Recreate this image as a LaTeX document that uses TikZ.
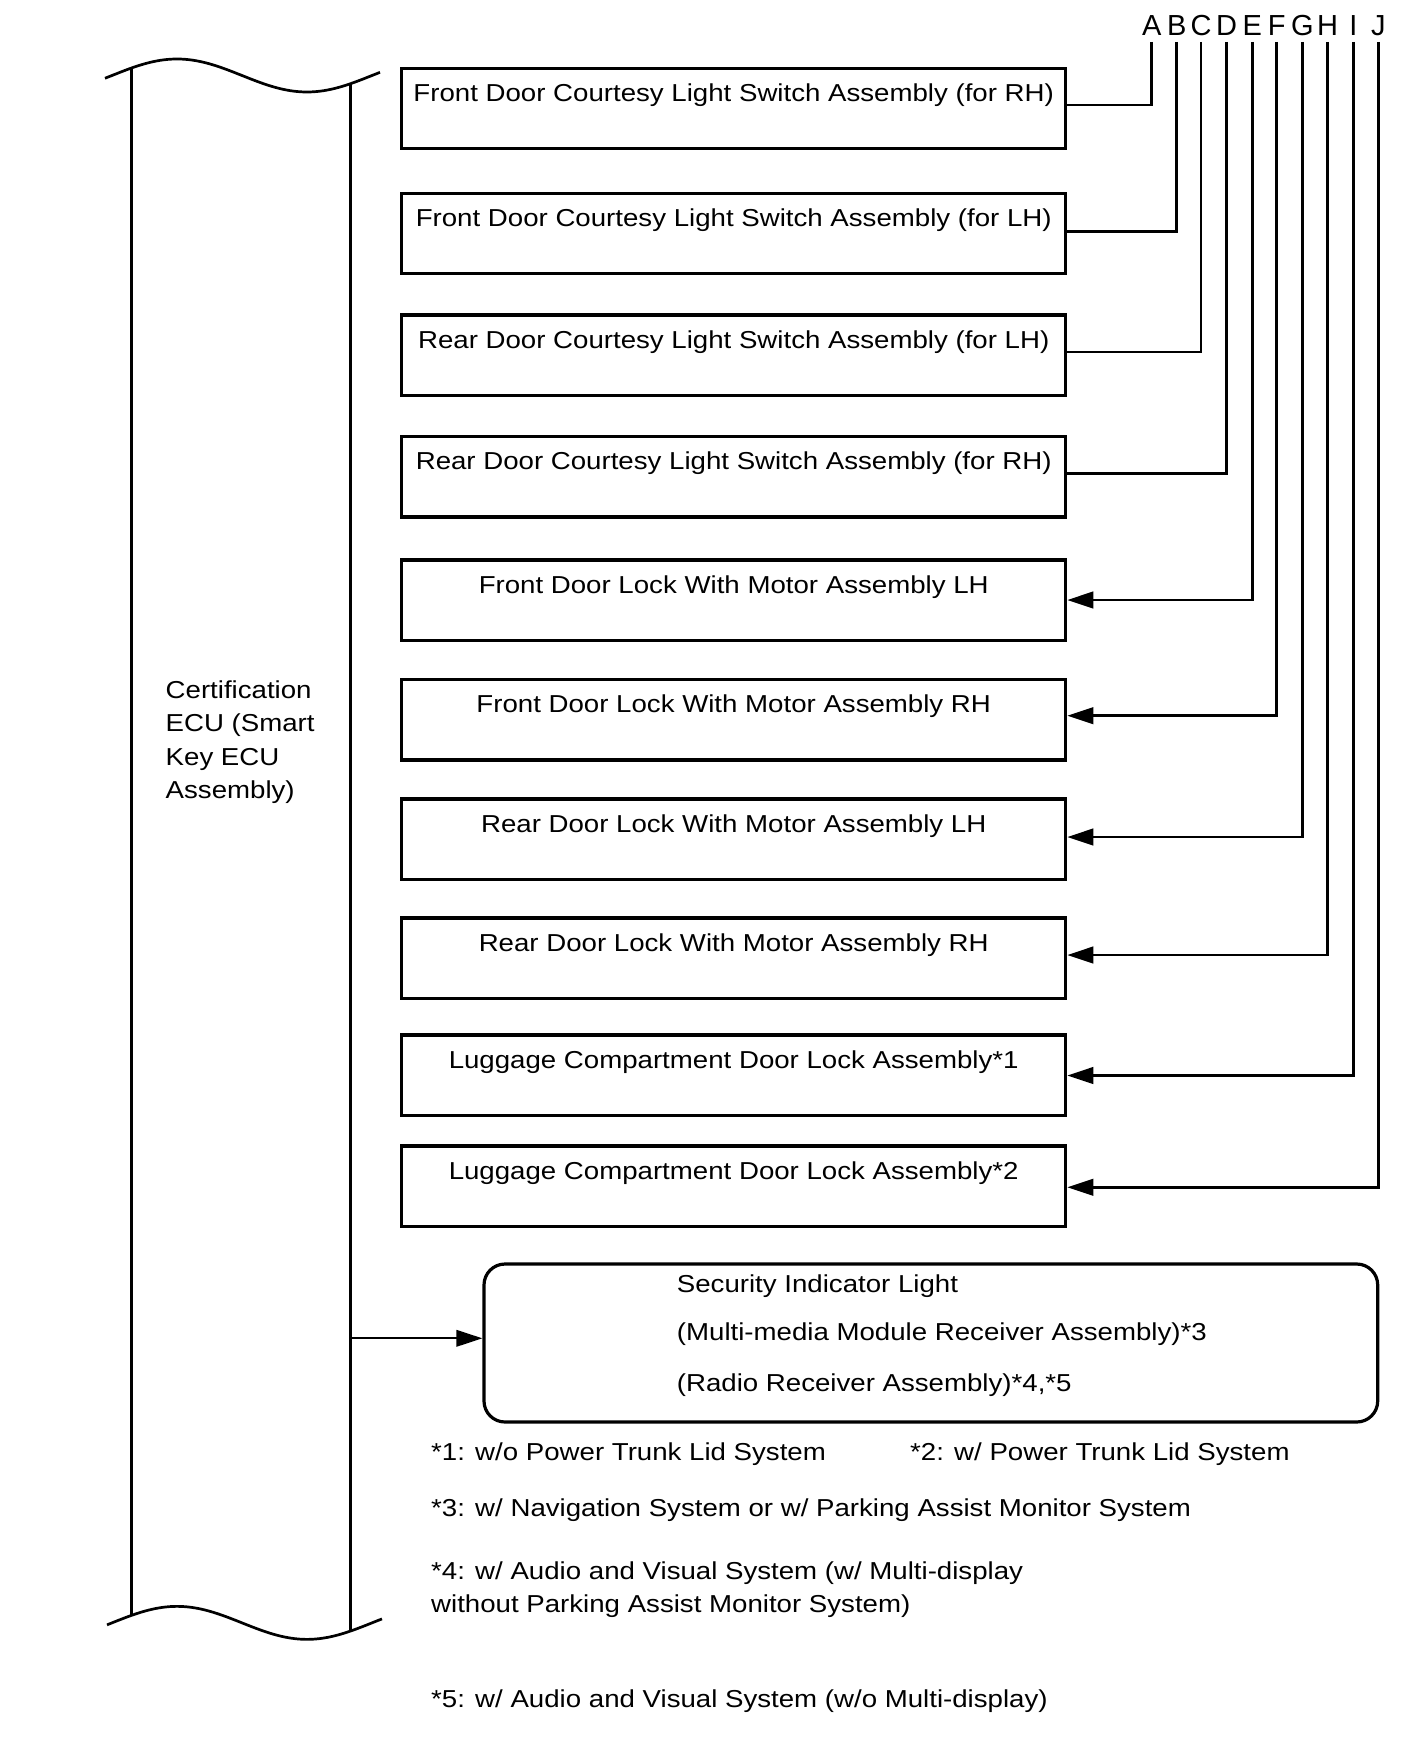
\documentclass[tikz,border=0pt]{standalone}
\usepackage{fontspec}
\setmainfont{Liberation Sans}[FakeStretch=1.128]
\newfontfamily\plainsans{Liberation Sans}
\usetikzlibrary{arrows.meta}
\begin{document}
\begin{tikzpicture}[x=1pt,y=-1pt,
  font=\fontsize{24.5pt}{32pt}\selectfont,
  box/.style={draw, line width=3.2pt, minimum width=664pt, inner xsep=0pt, inner ysep=0pt, text height=33pt, text depth=47.5pt},
  secbox/.style={draw, line width=3.2pt, minimum width=893.7pt, minimum height=158pt, rounded corners=21pt, inner sep=0pt},
  letter/.style={inner sep=0pt, outer ysep=6pt, text height=20.5pt, text depth=0pt, anchor=base, font=\plainsans\fontsize{29pt}{32pt}\selectfont},
  conn/.style={line width=2.6pt},
  arr/.style={conn, -{Triangle[length=26pt,width=16.5pt]}},
  eculine/.style={line width=3pt},
  wave/.style={line width=2.7pt},
  txt/.style={inner sep=0pt, anchor=base west},
  mtxt/.style={inner sep=0pt, anchor=north west, align=left}]
\useasboundingbox (0,0) rectangle (1424,1763);

% ECU (Certification ECU) drawn as a cut-away strip
\draw[wave] plot[domain=105:380, samples=80] (\x, {75.5+16.5*sin((\x-242)/130*180)});
\draw[wave] plot[domain=107:382, samples=80] (\x, {1622.85+16.5*sin((\x-242)/130*180)});
\draw[eculine] (131.7,67.9) -- (131.7,1615.3);
\draw[eculine] (350,83.9) -- (350,1631.2);
\node[mtxt, font=\fontsize{24.5pt}{33.5pt}\selectfont] (ecutext) at (165.5,680.5) {Certification\\ECU (Smart\\Key ECU\\Assembly)};
\coordinate (ecuR) at (350,1338.3);

% boxes
\node[box] (b1) at (733.7,108.55) {Front Door Courtesy Light Switch Assembly (for RH)};
\node[box] (b2) at (733.7,233.55) {Front Door Courtesy Light Switch Assembly (for LH)};
\node[box] (b3) at (733.7,355.25) {Rear Door Courtesy Light Switch Assembly (for LH)};
\node[box] (b4) at (733.7,476.75) {Rear Door Courtesy Light Switch Assembly (for RH)};
\node[box] (b5) at (733.7,600.25) {Front Door Lock With Motor Assembly LH};
\node[box] (b6) at (733.7,719.75) {Front Door Lock With Motor Assembly RH};
\node[box] (b7) at (733.7,839.25) {Rear Door Lock With Motor Assembly LH};
\node[box] (b8) at (733.7,958.25) {Rear Door Lock With Motor Assembly RH};
\node[box] (b9) at (733.7,1075.25) {Luggage Compartment Door Lock Assembly*1};
\node[box] (b10) at (733.7,1186.25) {Luggage Compartment Door Lock Assembly*2};

% letters
\node[letter] (LA) at (1151.7,36) {A};
\node[letter] (LB) at (1176.7,36) {B};
\node[letter] (LC) at (1201,36) {C};
\node[letter] (LD) at (1226.7,36) {D};
\node[letter] (LE) at (1252.3,36) {E};
\node[letter] (LF) at (1276.7,36) {F};
\node[letter] (LG) at (1302.3,36) {G};
\node[letter] (LH) at (1327.7,36) {H};
\node[letter] (LI) at (1353.3,36) {I};
\node[letter] (LJ) at (1378.3,36) {J};

\draw[conn] (LA.south) |- ([yshift=3.55pt]b1.east);
\draw[conn] (LB.south) |- ([yshift=1.85pt]b2.east);
\draw[conn] (LC.south) |- ([yshift=3.25pt]b3.east);
\draw[conn] (LD.south) |- ([yshift=3.15pt]b4.east);
\draw[arr] (LE.south) |- ([yshift=0.25pt]b5.east);
\draw[arr] (LF.south) |- ([yshift=4.05pt]b6.east);
\draw[arr] (LG.south) |- ([yshift=2.25pt]b7.east);
\draw[arr] (LH.south) |- ([yshift=3.25pt]b8.east);
\draw[arr] (LI.south) |- ([yshift=-0.25pt]b9.east);
\draw[arr] (LJ.south) |- ([yshift=-1.05pt]b10.east);

% security indicator
\node[secbox] (sec) at (930.85,1343) {};
\node[txt] (s1) at (676.7,1292.8) {Security Indicator Light};
\node[txt] (s2) at (676.7,1340.5) {(Multi-media Module Receiver Assembly)*3};
\node[txt] (s3) at (676.7,1391.8) {(Radio Receiver Assembly)*4,*5};
\draw[arr, line width=2pt] (ecuR) -- (sec.west |- ecuR);

% footnotes
\node[txt] (f1) at (431,1460.8) {*1: w/o Power Trunk Lid System};
\node[txt] (f2) at (910,1460.8) {*2: w/ Power Trunk Lid System};
\node[txt] (f3) at (431,1516.3) {*3: w/ Navigation System or w/ Parking Assist Monitor System};
\node[mtxt, font=\fontsize{24.5pt}{32.5pt}\selectfont] (f4) at (431,1562) {*4: w/ Audio and Visual System (w/ Multi-display\\without Parking Assist Monitor System)};
\node[txt] (f5) at (431,1707) {*5: w/ Audio and Visual System (w/o Multi-display)};
\end{tikzpicture}
\end{document}
